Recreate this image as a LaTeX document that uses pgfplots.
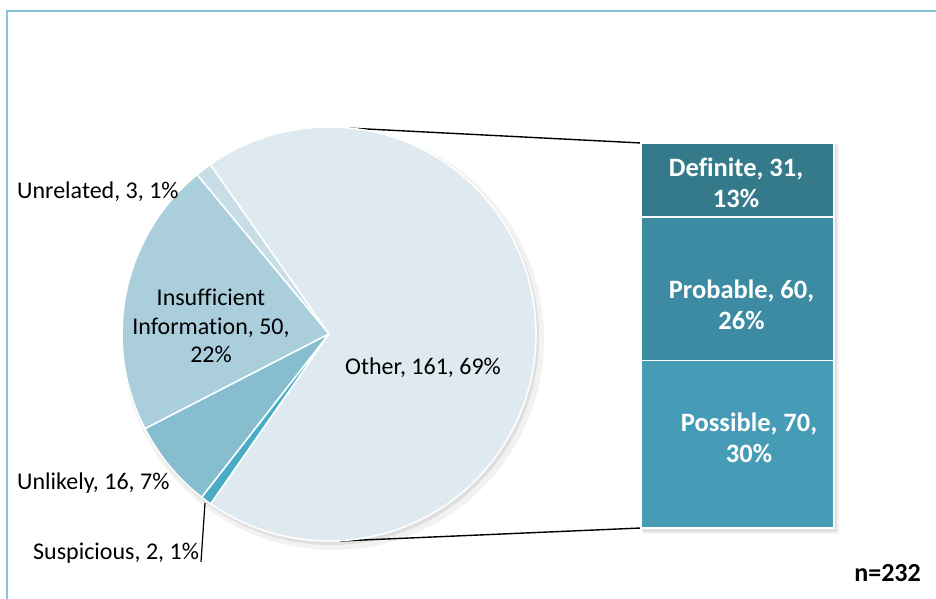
\documentclass[border=0pt]{standalone}
\usepackage{pgfplots}
\pgfplotsset{compat=1.18}
\usepackage{fontspec}
\setmainfont{Carlito}[Ligatures={NoCommon}]

\definecolor{cother}{HTML}{DEEAF0}
\definecolor{cunrel}{HTML}{C7DEE6}
\definecolor{cinsuf}{HTML}{AACEDC}
\definecolor{cunlik}{HTML}{86BED0}
\definecolor{csusp}{HTML}{4BACC6}
\definecolor{cdef}{HTML}{347A8B}
\definecolor{cprob}{HTML}{3D8BA2}
\definecolor{cposs}{HTML}{469CB6}
\definecolor{cframe}{HTML}{86C6D6}

% pie slice: count before this slice, count of slice, colour (n = 232, start at 125 deg)
\newcommand{\slice}[3]{%
  \fill[#3, draw=white, line width=1.5pt] (axis cs:329,265) -- ++({125+#1/232*360}:207pt)
    arc[start angle={125+#1/232*360}, delta angle={#2/232*360}, radius=207pt] -- cycle;}

\newcommand{\lbl}{\fontsize{24}{28.5}\selectfont}
\newcommand{\blbl}{\bfseries\fontsize{26.5}{31}\selectfont}

\begin{document}
\begin{tikzpicture}
\useasboundingbox (0,0) rectangle (936pt,599pt);

\begin{axis}[
    scale only axis,
    width=936pt, height=599pt,
    xmin=0, xmax=936, ymin=0, ymax=599,
    axis lines=none,
    clip=false
]
% frame of the chart area
\draw[cframe, line width=1.5pt] (axis cs:7,0) -- (axis cs:7,588) -- (axis cs:940,588);
\node[anchor=base east, inner sep=0pt, font=\bfseries\fontsize{23}{28}\selectfont] at (axis cs:152,603) {Rating,};

% connector lines to the bar
\draw[black, line width=1.4pt] (axis cs:347,471) -- (axis cs:641,456);
\draw[black, line width=1.4pt] (axis cs:340,58) -- (axis cs:641,71);

% soft shadows
\fill[black, opacity=0.05] (axis cs:333,260) circle[radius=211pt];
\fill[black, opacity=0.08] (axis cs:331,262) circle[radius=208pt];
\fill[black, opacity=0.05] (axis cs:643,65) rectangle (axis cs:839,454);
\fill[black, opacity=0.08] (axis cs:642,67) rectangle (axis cs:837,455);

% pie: Unrelated 3, Insufficient Information 50, Unlikely 16, Suspicious 2, Other 161
\slice{0}{3}{cunrel}
\slice{3}{50}{cinsuf}
\slice{53}{16}{cunlik}
\slice{69}{2}{csusp}
\slice{71}{161}{cother}

\node[anchor=base west, inner sep=0pt, font=\lbl] at (axis cs:17,400) {Unrelated, 3, 1\%};
\node[align=center, font=\lbl] at (axis cs:211,273) {Insufficient\\Information, 50,\\22\%};
\node[font=\lbl] at (axis cs:423,231) {Other, 161, 69\%};
\node[anchor=base west, inner sep=0pt, font=\lbl] at (axis cs:17,109) {Unlikely, 16, 7\%};
\node[anchor=base west, inner sep=0pt, font=\lbl] at (axis cs:33,39) {Suspicious, 2, 1\%};
\draw[black, line width=1.2pt] (axis cs:205,96) -- (axis cs:201,37);
\node[anchor=base east, inner sep=0pt, font=\bfseries\fontsize{26}{30}\selectfont] at (axis cs:921,17) {n=232};
\end{axis}

\begin{axis}[
    at={(641pt,71pt)}, anchor=south west,
    scale only axis,
    width=193pt, height=385pt,
    xmin=0.5, xmax=1.5, ymin=0, ymax=161,
    axis lines=none,
    ybar stacked, bar width=193pt,
    clip=false
]
\addplot[fill=cposs, draw=white, line width=1.3pt] coordinates {(1,70)};
\addplot[fill=cprob, draw=white, line width=1.3pt] coordinates {(1,60)};
\addplot[fill=cdef, draw=white, line width=1.3pt] coordinates {(1,31)};
\end{axis}

% labels of the bar segments, on top of the bars
\node[align=center, text=white, font=\blbl] at (749pt,161.5pt) {Possible, 70,\\30\%};
\node[align=center, text=white, font=\blbl] at (741.5pt,294pt) {Probable, 60,\\26\%};
\node[align=center, text=white, font=\blbl] at (736pt,416.5pt) {Definite, 31,\\13\%};
\end{tikzpicture}
\end{document}
